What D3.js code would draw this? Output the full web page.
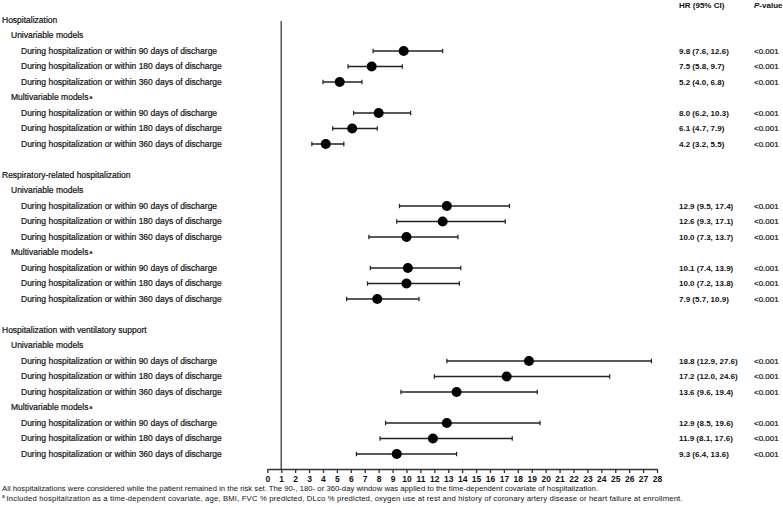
<!DOCTYPE html>
<html><head><meta charset="utf-8">
<script src="https://cdn.jsdelivr.net/npm/d3@7"></script>
<style>
body{margin:0;background:#fff;}
svg text{font-family:"Liberation Sans",Arial,sans-serif;fill:#111;}
</style></head>
<body><svg id="c" width="783" height="507"></svg>
<script>
// ---- data ----
const sections = ["Hospitalization","Respiratory-related hospitalization","Hospitalization with ventilatory support"];
const models = ["Univariable models","Multivariable models"];
const windows = ["During hospitalization or within 90 days of discharge","During hospitalization or within 180 days of discharge","During hospitalization or within 360 days of discharge"];
const hr = [9.8,7.5,5.2,8.0,6.1,4.2,12.9,12.6,10.0,10.1,10.0,7.9,18.8,17.2,13.6,12.9,11.9,9.3];
const lo = [7.6,5.8,4.0,6.2,4.7,3.2,9.5,9.3,7.3,7.4,7.2,5.7,12.9,12.0,9.6,8.5,8.1,6.4];
const hi = [12.6,9.7,6.8,10.3,7.9,5.5,17.4,17.1,13.7,13.9,13.8,10.9,27.6,24.6,19.4,19.6,17.6,13.6];
const hrText = ["9.8 (7.6, 12.6)","7.5 (5.8, 9.7)","5.2 (4.0, 6.8)","8.0 (6.2, 10.3)","6.1 (4.7, 7.9)","4.2 (3.2, 5.5)","12.9 (9.5, 17.4)","12.6 (9.3, 17.1)","10.0 (7.3, 13.7)","10.1 (7.4, 13.9)","10.0 (7.2, 13.8)","7.9 (5.7, 10.9)","18.8 (12.9, 27.6)","17.2 (12.0, 24.6)","13.6 (9.6, 19.4)","12.9 (8.5, 19.6)","11.9 (8.1, 17.6)","9.3 (6.4, 13.6)"];
const pText = hr.map(() => "<0.001");
const xTicks = d3.range(0, 29);
const footnote1 = "All hospitalizations were considered while the patient remained in the risk set. The 90-, 180- or 360-day window was applied to the time-dependent covariate of hospitalization.";
const footnote2 = "Included hospitalization as a time-dependent covariate, age, BMI, FVC % predicted, DLco % predicted, oxygen use at rest and history of coronary artery disease or heart failure at enrollment.";

// ---- build row list ----
const rows = [];
let k = 0;
sections.forEach((s, si) => {
  if (si > 0) rows.push({type: "blank"});
  rows.push({type: "section", label: s});
  models.forEach((m, mi) => {
    rows.push({type: "model", label: m, sup: mi === 1});
    windows.forEach(w => { rows.push({type: "item", label: w, i: k}); k++; });
  });
});
rows.forEach((r, idx) => r.idx = idx);

const svg = d3.select("#c");
const x = d3.scaleLinear().domain([0, 28]).range([267.3, 657]);
const y = d3.scaleLinear().domain([0, rows.length - 1]).range([20, 454]);
const axisY = 469;

// labels
const indent = {section: 2, model: 11, item: 21};
const lab = svg.append("g").selectAll("text").data(rows.filter(r => r.type !== "blank")).join("text")
  .attr("x", d => indent[d.type]).attr("y", d => y(d.idx)).attr("dy", "0.35em")
  .attr("font-size", 8.5).attr("fill", "#111").attr("stroke", "#111").attr("stroke-width", 0.2)
  .text(d => d.label);
lab.filter(d => d.sup).append("tspan").attr("font-size", 5).attr("dy", "-0.3em").attr("dx", 1).text("a");

// reference line
svg.append("line").attr("x1", x(1)).attr("x2", x(1)).attr("y1", 21).attr("y2", axisY)
  .attr("stroke", "#555").attr("stroke-width", 1.5);

// axis
const axis = svg.append("g").attr("transform", `translate(0,${axisY})`)
  .call(d3.axisBottom(x).tickValues(xTicks).tickSize(4).tickSizeOuter(0).tickPadding(3));
axis.select(".domain").attr("stroke", "#333").attr("stroke-width", 1.3);
axis.selectAll(".tick line").attr("stroke", "#333").attr("stroke-width", 1.3);
axis.selectAll(".tick text").attr("font-size", 8.5).attr("font-weight", "bold")
  .attr("font-family", "Liberation Sans, Arial, sans-serif").attr("fill", "#111");

// error bars and points
const items = rows.filter(r => r.type === "item");
const g = svg.append("g");
g.selectAll("line.ci").data(items).join("line").attr("class", "ci")
  .attr("x1", d => x(lo[d.i])).attr("x2", d => x(hi[d.i]))
  .attr("y1", d => y(d.idx)).attr("y2", d => y(d.idx))
  .attr("stroke", "#222").attr("stroke-width", 1.4);
["lo", "hi"].forEach(side => {
  g.selectAll("line.cap" + side).data(items).join("line").attr("class", "cap" + side)
    .attr("x1", d => x(side === "lo" ? lo[d.i] : hi[d.i])).attr("x2", d => x(side === "lo" ? lo[d.i] : hi[d.i]))
    .attr("y1", d => y(d.idx) - 2.2).attr("y2", d => y(d.idx) + 2.2)
    .attr("stroke", "#222").attr("stroke-width", 1.2);
});
g.selectAll("circle").data(items).join("circle")
  .attr("cx", d => x(hr[d.i])).attr("cy", d => y(d.idx)).attr("r", 5).attr("fill", "#000");

// right columns
svg.append("text").attr("x", 679).attr("y", 5).attr("dy", "0.35em").attr("font-size", 8).attr("font-weight", "bold").text("HR (95% CI)");
const ph = svg.append("text").attr("x", 754).attr("y", 5).attr("dy", "0.35em").attr("font-size", 8).attr("font-weight", "bold");
ph.append("tspan").attr("font-style", "italic").text("P");
ph.append("tspan").text("-value");
svg.append("g").selectAll("text").data(items).join("text")
  .attr("x", 679).attr("y", d => y(d.idx)).attr("dy", "0.35em").attr("font-size", 8).attr("font-weight", "bold")
  .text(d => hrText[d.i]);
svg.append("g").selectAll("text").data(items).join("text")
  .attr("x", 754).attr("y", d => y(d.idx)).attr("dy", "0.35em").attr("font-size", 8)
  .attr("stroke", "#111").attr("stroke-width", 0.2)
  .text(d => pText[d.i]);

// footnotes
svg.append("text").attr("x", 2).attr("y", 491).attr("font-size", 7.7)
  .attr("textLength", 596).attr("lengthAdjust", "spacing").text(footnote1);
const f2 = svg.append("text").attr("x", 2).attr("y", 500).attr("font-size", 7.7);
f2.append("tspan").attr("font-size", 5).attr("dy", "-0.5em").text("a");
f2.append("tspan").attr("x", 6.5).attr("dy", "0.5em")
  .attr("textLength", 676).attr("lengthAdjust", "spacing").text(footnote2);
</script></body></html>
